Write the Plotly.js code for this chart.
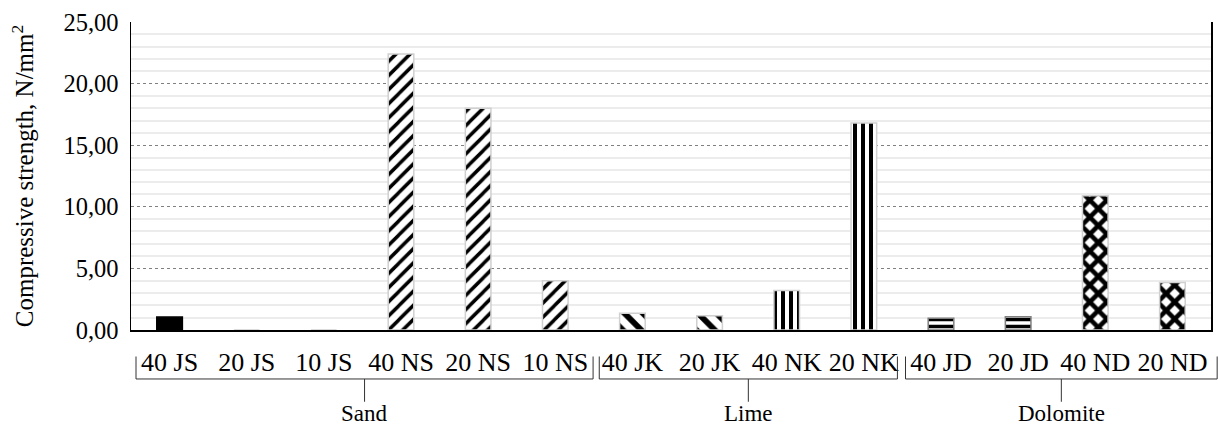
<!DOCTYPE html>
<html>
<head>
<meta charset="utf-8">
<script src="https://cdn.plot.ly/plotly-3.0.1.min.js"></script>
<style>html,body{margin:0;padding:0;background:#fff;}#chart{width:1218px;height:426px;}</style>
</head>
<body>
<div id="chart"></div>
<script>
// ---- data ----
const categories = ["40 JS","20 JS","10 JS","40 NS","20 NS","10 NS","40 JK","20 JK","40 NK","20 NK","40 JD","20 JD","40 ND","20 ND"];
const strength   = [1.05, 0, 0, 22.4, 18.0, 4.0, 1.35, 1.15, 3.2, 16.8, 0.95, 1.08, 10.9, 3.85];
const groupNames = ["Sand","Lime","Dolomite"];
const groupStart = [0, 6, 10];   // first category index of each group
const groupEnd   = [5, 9, 13];   // last category index of each group
const yTitle = "Compressive strength, N/mm<sup>2</sup>";

// ---- styles per bar ----
const patShape = ["/","/","/","/","/","/","\\","\\","|","|","-","-","x","x"];
const patSize  = [8,8,8,10,10,10,13,13,8,8,7,7,12,12];
const patSolid = [0.3,0.3,0.3,0.35,0.35,0.35,0.45,0.45,0.5,0.5,0.5,0.5,0.62,0.62];
const patBg    = categories.map((c,i)=> i===0 ? "#000000" : "#ffffff");
const lineCol  = categories.map((c,i)=> i===0 ? "#000000" : (i===10||i===11 ? "#808080" : "#d0d0d0"));

const trace = {
  type: "bar",
  x: categories,
  y: strength,
  marker: {
    color: "#ffffff",
    line: {color: lineCol, width: 1.5},
    pattern: {shape: patShape, size: patSize, solidity: patSolid, fgcolor: "#000000", bgcolor: patBg, fillmode: "replace"}
  },
  hoverinfo: "x+y"
};

// bracket helpers (paper coords from category index)
const nCat = categories.length;
const px = idx => (idx + 0.5) / nCat;
const FONT = "Liberation Serif, Times New Roman, serif";
const shapes = [];
const annotations = [];
const insetL = [0.065, 0.07, 0.04];
const insetR = [0.01, 0.065, -0.08];
const yBar = -0.159, yEnd = -0.086, yStem = -0.233, yLab = -0.272;
groupNames.forEach((g, k) => {
  const a = px(groupStart[k] - 0.5 + insetL[k]);
  const b = px(groupEnd[k] + 0.5 - insetR[k]);
  const m = (a + b) / 2;
  const ln = {color: "#333333", width: 1};
  shapes.push({type:"line", xref:"paper", yref:"paper", x0:a, x1:b, y0:yBar, y1:yBar, line: ln});
  shapes.push({type:"line", xref:"paper", yref:"paper", x0:a, x1:a, y0:yBar, y1:yEnd, line: ln});
  shapes.push({type:"line", xref:"paper", yref:"paper", x0:b, x1:b, y0:yBar, y1:yEnd, line: ln});
  shapes.push({type:"line", xref:"paper", yref:"paper", x0:m, x1:m, y0:yBar, y1:yStem, line: ln});
  annotations.push({xref:"paper", yref:"paper", x:m, y:yLab, text:g, showarrow:false,
    xanchor:"center", yanchor:"middle", font:{family:FONT, size:23, color:"#000"}});
});

const layout = {
  width: 1218, height: 426,
  margin: {l: 131, r: 7, t: 21.5, b: 96, pad: 0},
  paper_bgcolor: "#ffffff", plot_bgcolor: "#ffffff",
  separators: ",.",
  showlegend: false,
  bargap: 0.668,
  font: {family: FONT, size: 25, color: "#000"},
  xaxis: {
    type: "category",
    showline: true, linecolor: "#000", linewidth: 2,
    showgrid: false, ticks: "", ticklabelstandoff: 8,
    tickfont: {family: FONT, size: 26, color: "#000"},
    fixedrange: true
  },
  yaxis: {
    range: [0, 25], dtick: 5, tickformat: ".2f",
    showline: true, mirror: true, linecolor: "#000", linewidth: 1.5,
    showgrid: true, gridcolor: "#808080", gridwidth: 1, griddash: "dot",
    minor: {dtick: 1, showgrid: true, gridcolor: "#ececec", gridwidth: 2, griddash: "solid"},
    zeroline: false, ticks: "", ticklabelstandoff: 6,
    tickfont: {family: FONT, size: 24.5, color: "#000"},
    title: {text: yTitle, font: {family: FONT, size: 25, color: "#000"}, standoff: 22},
    fixedrange: true
  },
  shapes: shapes,
  annotations: annotations
};

Plotly.newPlot("chart", [trace], layout, {displayModeBar: false, staticPlot: true});
</script>
</body>
</html>
